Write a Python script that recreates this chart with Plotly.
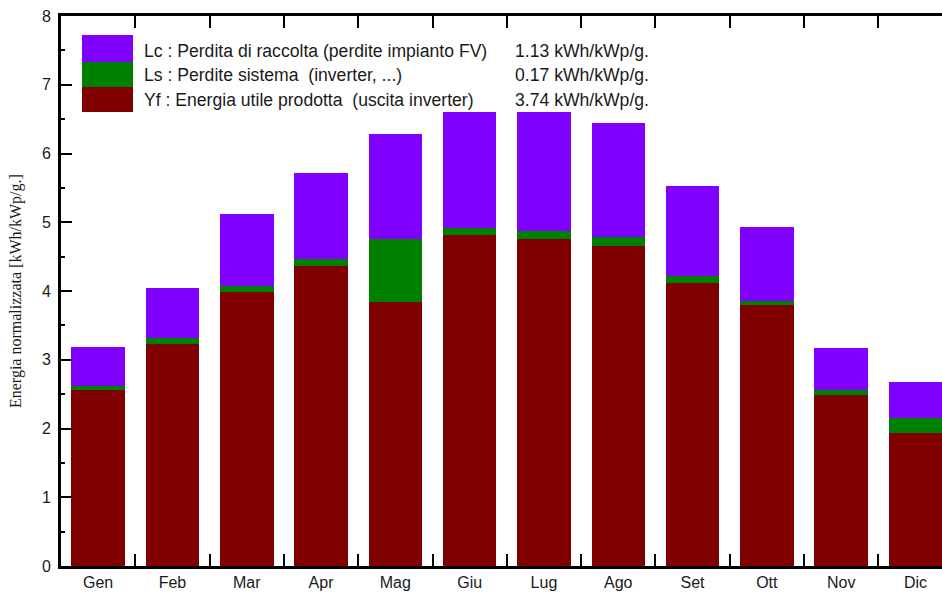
import plotly.graph_objects as go

months = ["Gen", "Feb", "Mar", "Apr", "Mag", "Giu", "Lug", "Ago", "Set", "Ott", "Nov", "Dic"]
yf = [2.56, 3.23, 3.98, 4.37, 3.84, 4.82, 4.75, 4.66, 4.12, 3.79, 2.49, 1.93]
ls = [0.06, 0.09, 0.10, 0.09, 0.91, 0.10, 0.12, 0.12, 0.10, 0.07, 0.07, 0.22]
lc = [0.57, 0.72, 1.04, 1.26, 1.54, 1.69, 1.74, 1.66, 1.31, 1.07, 0.61, 0.53]

legend_labels = [
    "Lc : Perdita di raccolta (perdite impianto FV)",
    "Ls : Perdite sistema  (inverter, ...)",
    "Yf : Energia utile prodotta  (uscita inverter)",
]
legend_values = ["1.13 kWh/kWp/g.", "0.17 kWh/kWp/g.", "3.74 kWh/kWp/g."]
colors = ["#8000FF", "#008000", "#800000"]

W, H = 942, 592
L, R, T, B = 61, 0, 16, 26
PW, PH = W - L - R, H - T - B

def px(x):
    return (x - L) / PW

def py(y):
    return 1 - (y - T) / PH

fig = go.Figure()
for vals, col, name in [(yf, colors[2], "Yf"), (ls, colors[1], "Ls"), (lc, colors[0], "Lc")]:
    fig.add_trace(go.Bar(x=months, y=vals, name=name, marker=dict(color=col, line=dict(width=0)),
                         width=0.72, showlegend=False))

# legend block
sw_tops = [35, 62, 87]
sw_bots = [62, 87, 112]
for i in range(3):
    fig.add_shape(type="rect", xref="paper", yref="paper",
                  x0=px(82), x1=px(133), y0=py(sw_bots[i]), y1=py(sw_tops[i]),
                  fillcolor=colors[i], line=dict(width=0), layer="above")
text_y = [51, 75, 100]
for i in range(3):
    fig.add_annotation(xref="paper", yref="paper", x=px(142), y=py(text_y[i]),
                       text=legend_labels[i], showarrow=False, xanchor="left", yanchor="middle",
                       font=dict(family="Liberation Sans, Arial", size=17.6, color="#1a1a1a"))
    fig.add_annotation(xref="paper", yref="paper", x=px(513), y=py(text_y[i]),
                       text=legend_values[i], showarrow=False, xanchor="left", yanchor="middle",
                       font=dict(family="Liberation Sans, Arial", size=17.6, color="#1a1a1a"))

fig.add_annotation(xref="paper", yref="paper", x=px(16), y=0.5, textangle=-90,
                   text="Energia normalizzata [kWh/kWp/g.]", showarrow=False,
                   xanchor="center", yanchor="middle",
                   font=dict(family="Liberation Serif, Times New Roman", size=16, color="#1a1a1a"))

fig.update_layout(
    width=W, height=H, barmode="stack", bargap=0.28,
    margin=dict(l=L, r=R, t=T, b=B, pad=0),
    plot_bgcolor="white", paper_bgcolor="white",
    font=dict(family="Liberation Sans, Arial", size=16, color="#1a1a1a"),
    xaxis=dict(type="category", range=[-0.5, -0.5 + PW / 74.3], tickson="boundaries",
               ticks="inside", ticklen=12, tickwidth=2, tickcolor="black",
               showline=True, linewidth=3, linecolor="black", mirror="ticks",
               showgrid=False, tickfont=dict(size=16), ticklabelstandoff=0),
    yaxis=dict(range=[0, 8], dtick=1, ticks="inside", ticklen=11, tickwidth=2, tickcolor="black",
               showline=True, linewidth=3, linecolor="black", showgrid=False, zeroline=False,
               tickfont=dict(size=16), ticklabelstandoff=4,
               minor=dict(ticks="inside", dtick=0.5, ticklen=4, tickwidth=2, tickcolor="black")),
)

fig.write_html("out.html", config={"displayModeBar": False},
               post_script="document.body.style.margin='0';")
